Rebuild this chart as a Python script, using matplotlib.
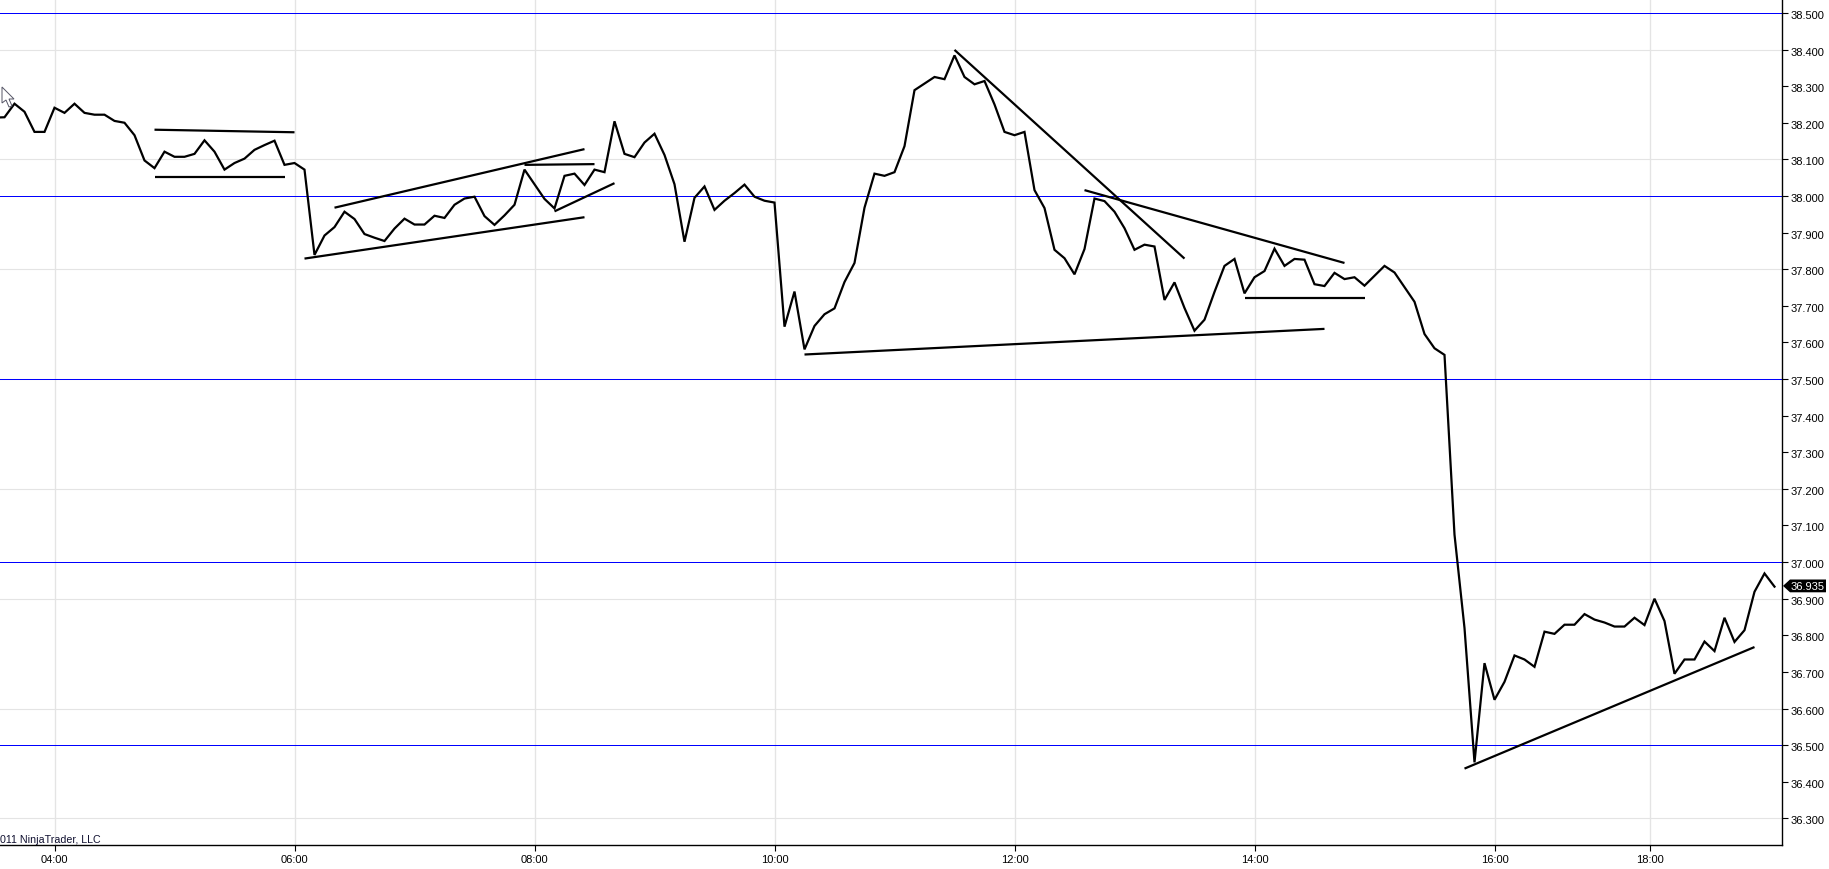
import matplotlib
matplotlib.use("Agg")
import matplotlib.pyplot as plt
from matplotlib.patches import Polygon
from matplotlib.transforms import ScaledTranslation

W, H = 1829, 870
plt.rcParams['font.family'] = ['Liberation Sans', 'DejaVu Sans']

# Bar numbers: bar 0 is the 04:00 bar. The first value belongs to bar -6.
first_bar = -6
price = [
    38.214, 38.215, 38.252, 38.230, 38.175, 38.175,
    38.241, 38.227, 38.252, 38.227, 38.222, 38.222, 38.205, 38.200, 38.166, 38.097,
    38.076, 38.121, 38.107, 38.107, 38.115, 38.152, 38.121, 38.072, 38.090, 38.102,
    38.126, 38.139, 38.151, 38.085, 38.090, 38.072, 37.839, 37.892, 37.915, 37.957,
    37.937, 37.896, 37.886, 37.877, 37.911, 37.938, 37.922, 37.922, 37.946, 37.940,
    37.976, 37.993, 37.998, 37.945, 37.921, 37.947, 37.976, 38.072, 38.032, 37.992,
    37.966, 38.055, 38.061, 38.030, 38.072, 38.065, 38.204, 38.115, 38.106, 38.146,
    38.170, 38.112, 38.032, 37.875, 37.995, 38.026, 37.962, 37.987, 38.008, 38.031,
    37.998, 37.987, 37.982, 37.643, 37.739, 37.581, 37.645, 37.677, 37.693, 37.765,
    37.817, 37.968, 38.061, 38.055, 38.065, 38.136, 38.289, 38.307, 38.325, 38.319,
    38.384, 38.325, 38.305, 38.314, 38.250, 38.175, 38.166, 38.175, 38.016, 37.967,
    37.853, 37.830, 37.786, 37.855, 37.993, 37.986, 37.957, 37.912, 37.853, 37.867,
    37.862, 37.716, 37.764, 37.694, 37.632, 37.662, 37.738, 37.809, 37.828, 37.734,
    37.778, 37.795, 37.856, 37.809, 37.828, 37.826, 37.759, 37.754, 37.790, 37.773,
    37.778, 37.755, 37.782, 37.809, 37.791, 37.751, 37.711, 37.623, 37.584, 37.566,
    37.075, 36.820, 36.453, 36.724, 36.624, 36.673, 36.745, 36.734, 36.714, 36.810,
    36.804, 36.829, 36.829, 36.858, 36.843, 36.835, 36.824, 36.824, 36.848, 36.828,
    36.900, 36.839, 36.695, 36.734, 36.734, 36.783, 36.757, 36.848, 36.782, 36.814,
    36.919, 36.969, 36.933,
]
bars = [first_bar + i for i in range(len(price))]

# Hand-drawn trend lines: start bar, start price, end bar, end price
trend_bar_a = [10, 10, 25, 28, 47, 50, 75, 90, 103, 119, 141]
trend_val_a = [38.181, 38.053, 37.829, 37.968, 38.085, 37.958, 37.567, 38.399, 38.016, 37.722, 36.436]
trend_bar_b = [24, 23, 53, 53, 54, 56, 127, 113, 129, 131, 170]
trend_val_b = [38.174, 38.053, 37.942, 38.128, 38.087, 38.035, 37.637, 37.829, 37.817, 37.722, 36.768]

level_lines = [36.5, 37.0, 37.5, 38.0, 38.5]
grid_prices = [36.3, 36.6, 36.9, 37.2, 37.5, 37.8, 38.1, 38.4]
tick_prices = [36.3, 36.4, 36.5, 36.6, 36.7, 36.8, 36.9, 37.0, 37.1, 37.2, 37.3, 37.4,
               37.5, 37.6, 37.7, 37.8, 37.9, 38.0, 38.1, 38.2, 38.3, 38.4, 38.5]
time_bars = [0, 24, 48, 72, 96, 120, 144, 159.5]
time_labels = ['04:00', '06:00', '08:00', '10:00', '12:00', '14:00', '16:00', '18:00']
last_price = 36.935

fig = plt.figure(figsize=(W / 100, H / 100), dpi=100, facecolor='white')
ax_right, ax_bottom = 1782.3, 846.3
ax = fig.add_axes([0, 1 - ax_bottom / H, ax_right / W, ax_bottom / H])
ax.set_xlim(-5.45, 172.78)
ax.set_ylim(36.2265, 38.538)

for s in ('top', 'left'):
    ax.spines[s].set_visible(False)
for s in ('right', 'bottom'):
    ax.spines[s].set_linewidth(1.0)
    ax.spines[s].set_color('black')

ax.yaxis.tick_right()
ax.set_yticks(tick_prices)
ax.set_yticklabels([f'{v:.3f}' for v in tick_prices])
ax.set_xticks(time_bars)
ax.set_xticklabels(time_labels)
ax.tick_params(axis='y', direction='out', length=4.4, width=0.8, pad=1.4, labelsize=8.0, colors='black')
ax.tick_params(axis='x', direction='out', length=4.4, width=0.8, pad=2.0, labelsize=8.0, colors='black')
shift = ScaledTranslation(0, -1.0 / 100, fig.dpi_scale_trans)
for lab in ax.get_yticklabels():
    lab.set_transform(lab.get_transform() + shift)

for v in grid_prices:
    ax.axhline(v, color='#e4e4e4', lw=0.8, zorder=1)
for b in time_bars:
    ax.axvline(b, color='#e4e4e4', lw=0.95, zorder=1)
for v in level_lines:
    ax.axhline(v, color='#0000ff', lw=0.72, zorder=2)

ax.plot(bars, price, color='black', lw=1.6, solid_joinstyle='miter', zorder=3)
for xa, ya, xb, yb in zip(trend_bar_a, trend_val_a, trend_bar_b, trend_val_b):
    ax.plot([xa, xb], [ya, yb], color='black', lw=1.6, solid_capstyle='butt', zorder=4)

ax.text(0.5 / ax_right, 1.6 / ax_bottom, '011 NinjaTrader, LLC', transform=ax.transAxes,
        ha='left', va='bottom', fontsize=7.65, color='#101030', zorder=5)

# Last-price flag on the right-hand scale
fig.canvas.draw()
_, y_px = ax.transData.transform((0, last_price))
flag = [(1783, y_px), (1790, y_px + 6.4), (1826, y_px + 6.4), (1826, y_px - 6.4), (1790, y_px - 6.4)]
fig.add_artist(Polygon(flag, closed=True, facecolor='black', edgecolor='none',
                       transform=None, zorder=6))
fig.text(1807.5 / W, y_px / H, f'{last_price:.3f}', color='white', fontsize=8.0,
         ha='center', va='center', zorder=7)

# Mouse pointer left in the screenshot
cursor = [(2, 88), (2, 104), (6, 101), (9, 108), (12, 107), (9, 100), (14, 100)]
fig.add_artist(Polygon([(x, H - y) for x, y in cursor], closed=True, facecolor='white',
                       edgecolor='#555566', lw=0.7, transform=None, zorder=8))

fig.savefig('out.png', dpi=100, facecolor='white')
